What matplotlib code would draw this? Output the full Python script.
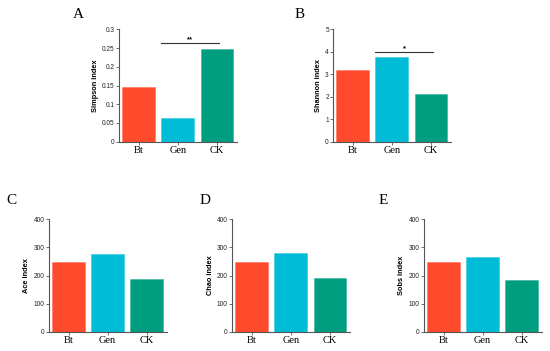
import matplotlib
matplotlib.use("Agg")
import matplotlib.pyplot as plt

categories = ["Bt", "Gen", "CK"]
colors = ["#FF4A2C", "#00BCD6", "#009E80"]

simpson = [0.145, 0.063, 0.248]
shannon = [3.17, 3.76, 2.13]
ace = [248, 278, 189]
chao = [249, 281, 191]
sobs = [247, 266, 184]

panels = [
    # letter, values, ylabel, ylim, yticks, ticklabels, sig(i, j, y, text)
    ("A", simpson, "Simpson index", 0.3, [0, 0.05, 0.1, 0.15, 0.2, 0.25, 0.3],
     ["0", "0.05", "0.1", "0.15", "0.2", "0.25", "0.3"], (1, 2, 0.263, "**")),
    ("B", shannon, "Shannon index", 5, [0, 1, 2, 3, 4, 5],
     ["0", "1", "2", "3", "4", "5"], (1, 2, 4.0, "*")),
    ("C", ace, "Ace index", 400, [0, 100, 200, 300, 400],
     ["0", "100", "200", "300", "400"], None),
    ("D", chao, "Chao index", 400, [0, 100, 200, 300, 400],
     ["0", "100", "200", "300", "400"], None),
    ("E", sobs, "Sobs index", 400, [0, 100, 200, 300, 400],
     ["0", "100", "200", "300", "400"], None),
]

W, H = 550, 351
fig = plt.figure(figsize=(5.5, 3.51), dpi=100)

ax_w = 118
pos = {
    "A": (119.3, 29.3, 141.7),
    "B": (333.3, 29.3, 141.7),
    "C": (49.0, 219.3, 331.7),
    "D": (232.3, 219.3, 331.7),
    "E": (424.0, 219.3, 331.7),
}
letter_pos = {"A": (78, 14), "B": (300, 14), "C": (11.5, 200.5),
              "D": (205.5, 200.5), "E": (383.5, 200.5)}

axis_col = "#555555"
for letter, vals, ylab, ymax, yt, ytl, sig in panels:
    l, t, b = pos[letter]
    ax = fig.add_axes([l / W, (H - b) / H, ax_w / W, (b - t) / H])
    x = range(len(categories))
    ax.bar(x, vals, width=0.84, color=colors, edgecolor=[c + "99" for c in colors],
           linewidth=0.4)
    ax.set_xlim(-0.5, 2.52)
    ax.set_ylim(0, ymax)
    ax.set_yticks(yt)
    ax.set_yticklabels(ytl, fontsize=4.7, family="Liberation Sans", color="#222222")
    ax.set_xticks(list(x))
    ax.set_xticklabels(categories, fontsize=7.5, family="Liberation Serif")
    ax.set_ylabel(ylab, fontsize=5.3, family="Liberation Sans", fontweight="bold",
                  labelpad=2.5)
    for s in ["top", "right"]:
        ax.spines[s].set_visible(False)
    for s in ["left", "bottom"]:
        ax.spines[s].set_color(axis_col)
        ax.spines[s].set_linewidth(0.8)
    ax.tick_params(axis="y", length=2.4, width=0.6, color=axis_col, pad=0.8)
    ax.tick_params(axis="x", length=2, width=0.6, color=axis_col, pad=1)
    if sig is not None:
        i, j, yv, txt = sig
        ax.plot([i - 0.42, j + 0.05], [yv, yv], color="#333333", lw=0.8,
                clip_on=False)
        ax.text((i - 0.42 + j + 0.05) / 2, yv, txt, ha="center", va="bottom",
                fontsize=5.5, fontweight="bold", family="Liberation Sans")
    lx, ly = letter_pos[letter]
    fig.text(lx / W, (H - ly) / H, letter, fontsize=11, family="Liberation Serif",
             ha="center", va="center")

fig.savefig("out.png", dpi=100)
